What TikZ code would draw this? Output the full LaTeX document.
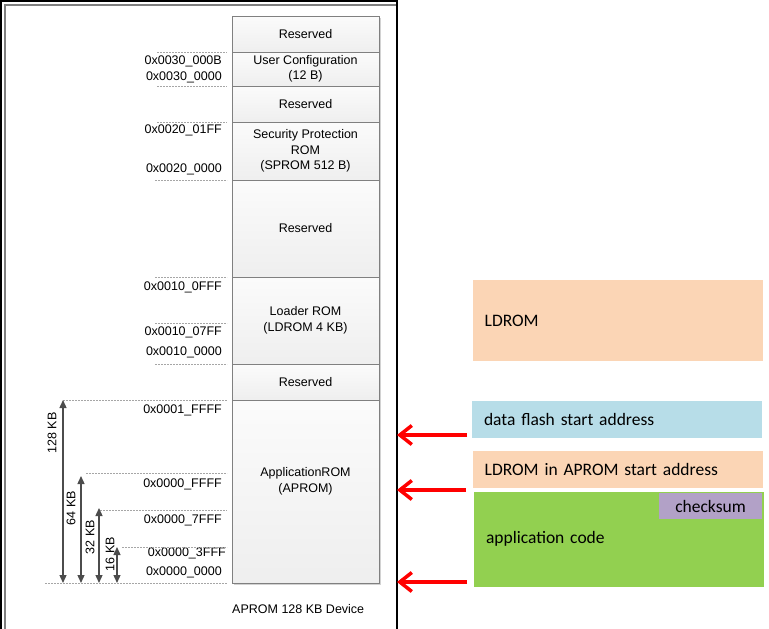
\documentclass[tikz,border=0pt]{standalone}
\usepackage{fontspec}
\setmainfont{Liberation Sans}
\newfontfamily\calibfont{Carlito}
\usetikzlibrary{arrows.meta,shadows}
\definecolor{peach}{HTML}{FBD5B5}
\definecolor{flashblue}{HTML}{B7DDE8}
\definecolor{appgreen}{HTML}{92D050}
\definecolor{cklilac}{HTML}{B2A1C7}
\begin{document}
\begin{tikzpicture}[x=1pt,y=-1pt]
\tikzset{memblk/.style={draw=gray, line width=0.8pt, top color=gray!3, bottom color=gray!13, minimum width=147pt, inner sep=0pt, align=center, font=\fontsize{12.5}{15.5}\selectfont, drop shadow={shadow xshift=1.5pt, shadow yshift=-1.5pt, fill=gray!35, opacity=1}},
addr/.style={anchor=east, inner sep=0pt, font=\fontsize{12.5}{14}\selectfont},
guide/.style={gray!70, dash pattern=on 2pt off 1pt, line width=0.8pt},
sizearr/.style={{Triangle[length=8pt,width=7pt]}-{Triangle[length=8pt,width=7pt]}, draw=black!70, line width=1.3pt},
sizelbl/.style={rotate=90, inner sep=0pt, font=\fontsize{12.5}{14}\selectfont},
infobox/.style={minimum width=290pt, text width=266pt, inner xsep=12pt, inner ysep=0pt, align=left, font=\calibfont\fontsize{17.5}{20}\selectfont},
redarr/.style={-{Straight Barb[length=12pt,width=19pt]}, red, line width=3.5pt}}
\useasboundingbox (0,0) rectangle (769,629);
\draw[black, line width=1.2pt] (1,629) -- (1,1) -- (397,1) -- (397,629);
\draw[gray, line width=2pt] (5,629) -- (5,5) -- (396,5);
\node[memblk, minimum height=36pt] (res1) at (305.5,34) {Reserved};
\node[memblk, minimum height=34pt] (ucfg) at (305.5,69) {User Configuration\\(12 B)};
\node[memblk, minimum height=36pt] (res2) at (305.5,104) {Reserved};
\node[memblk, minimum height=58pt] (sprom) at (305.5,151) {Security Protection\\ROM\\(SPROM 512 B)};
\node[memblk, minimum height=97pt] (res3) at (305.5,228.5) {Reserved};
\node[memblk, minimum height=87pt] (ldrom) at (305.5,320.5) {Loader ROM\\(LDROM 4 KB)};
\node[memblk, minimum height=36pt] (res4) at (305.5,382) {Reserved};
\node[memblk, minimum height=183pt] (aprom) at (305.5,491.5) {};
\node[align=center, font=\fontsize{12.5}{15.5}\selectfont] (aptxt) at (305.5,481.5) {ApplicationROM\\(APROM)};
\node[anchor=west, inner sep=0pt, font=\fontsize{12.5}{14}\selectfont] (devname) at (232,609) {APROM 128 KB Device};
\node[addr] (a1) at (222,61) {0x0030\_000B};
\node[addr] (a2) at (222,77) {0x0030\_0000};
\node[addr] (a3) at (222,130) {0x0020\_01FF};
\node[addr] (a4) at (222,169) {0x0020\_0000};
\node[addr] (a5) at (222,287) {0x0010\_0FFF};
\node[addr] (a6) at (222,332) {0x0010\_07FF};
\node[addr] (a7) at (222,352) {0x0010\_0000};
\node[addr] (a8) at (222,410) {0x0001\_FFFF};
\node[addr] (a9) at (222,484) {0x0000\_FFFF};
\node[addr] (a10) at (222,520) {0x0000\_7FFF};
\node[addr] (a11) at (226,553) {0x0000\_3FFF};
\node[addr] (a12) at (222,572) {0x0000\_0000};
\draw[guide] (157,52) -- (227,52);
\draw[guide] (157,86) -- (227,86);
\draw[guide] (157,122) -- (227,122);
\draw[guide] (155,180) -- (227,180);
\draw[guide] (155,277) -- (227,277);
\draw[guide] (155,323) -- (227,323);
\draw[guide] (155,364) -- (227,364);
\draw[guide] (63,400) -- (227,400);
\draw[guide] (86,473) -- (227,473);
\draw[guide] (100,510) -- (227,510);
\draw[guide] (122,547) -- (227,547);
\draw[guide] (45,583) -- (227,583);
\coordinate (top128) at (63,400);
\coordinate (bot128) at (63,583);
\coordinate (top64) at (81,476);
\coordinate (bot64) at (81,583);
\coordinate (top32) at (99,508);
\coordinate (bot32) at (99,583);
\coordinate (top16) at (117,547);
\coordinate (bot16) at (117,583);
\draw[sizearr] (top128) -- (bot128);
\draw[sizearr] (top64) -- (bot64);
\draw[sizearr] (top32) -- (bot32);
\draw[sizearr] (top16) -- (bot16);
\node[sizelbl] (k128) at (52,433) {128 KB};
\node[sizelbl] (k64) at (71,508) {64 KB};
\node[sizelbl] (k32) at (90,537) {32 KB};
\node[sizelbl] (k16) at (110,554) {16 KB};
\node[infobox, fill=peach, minimum height=81pt] (ldbox) at (617.7,320.8) {LDROM};
\node[infobox, fill=flashblue, minimum height=36.5pt] (dfbox) at (617,419.3) {data flash start address};
\node[infobox, fill=peach, minimum height=36.5pt] (ldapbox) at (617.7,469.3) {LDROM in APROM start address};
\node[infobox, fill=appgreen, minimum height=95pt] (appbox) at (619,539.2) {application code};
\node[fill=cklilac, minimum width=103pt, minimum height=25.5pt, inner sep=0pt, font=\calibfont\fontsize{17.5}{20}\selectfont] (cksum) at (710.5,506.2) {checksum};
\coordinate (dftail) at (467,435);
\coordinate (dftip) at (397,435);
\coordinate (ldtail) at (466,490);
\coordinate (ldtip) at (397,490);
\coordinate (aptail) at (467,582);
\coordinate (aptip) at (397,582);
\draw[redarr] (dftail) -- (dftip);
\draw[redarr] (ldtail) -- (ldtip);
\draw[redarr] (aptail) -- (aptip);
\end{tikzpicture}
\end{document}
